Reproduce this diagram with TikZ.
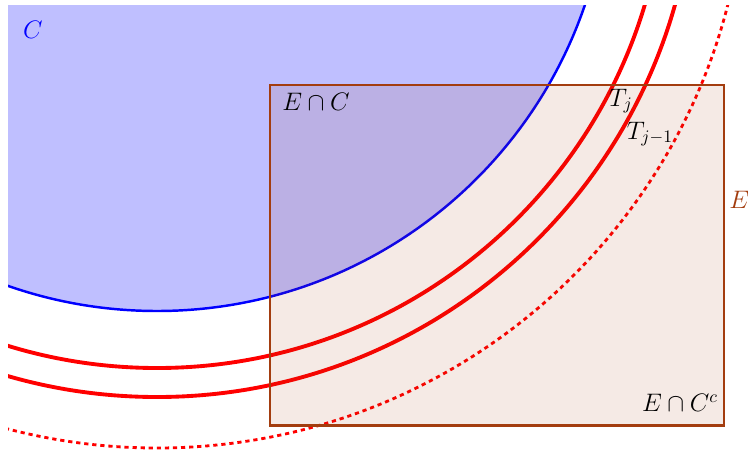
\documentclass[tikz,border=0pt]{standalone}
\usepackage{amsmath}
\definecolor{setbrown}{rgb}{0.64,0.24,0.06}
\tikzstyle{disk} = [blue, line width=1.4pt]
\tikzstyle{level} = [red, line width=2.2pt]
\tikzstyle{outer} = [red, line width=1.6pt, dash pattern=on 2.4pt off 2.2pt]
\tikzstyle{setbox} = [draw=setbrown, line width=1.7pt, fill=setbrown, fill opacity=0.11]
\tikzstyle{lbl} = [font=\fontsize{14}{16}\selectfont, inner sep=0pt]

\begin{document}
\begin{tikzpicture}[x=0.02cm, y=-0.02cm]
    \useasboundingbox (0,0) rectangle (748,454);
    \coordinate (o) at (157,-141);
    \begin{scope}
        \clip (8,5) rectangle (748,454);
        \fill[blue!25] (o) circle (452);
        \draw[disk] (o) circle (452);
        \draw[level] (o) circle (509);
        \draw[level] (o) circle (538);
        \draw[outer] (o) circle (589);
    \end{scope}
    \draw[setbox] (270,85) rectangle (724,425);

    \node (c) [lbl, blue] at (33,30) {$C$};
    \node (ec) [lbl] at (316,102) {$E\cap C$};
    \node (tj) [lbl] at (621,101) {$T_j$};
    \node (tj1) [lbl] at (650,134) {$T_{j-1}$};
    \node (e) [lbl, setbrown, anchor=west] at (729,200) {$E$};
    \node (ecc) [lbl] at (680,403) {$E\cap C^c$};
\end{tikzpicture}
\end{document}
